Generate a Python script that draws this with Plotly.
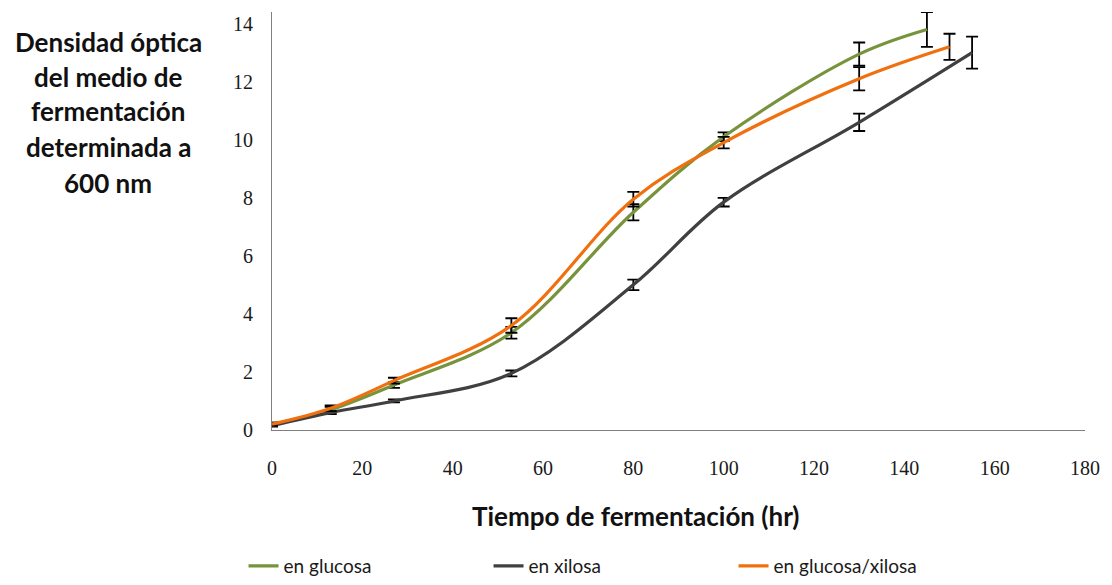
import plotly.graph_objects as go

# Data
t_glucosa = [0, 13, 27, 53, 80, 100, 130, 145]
od_glucosa = [0.2, 0.7, 1.55, 3.35, 7.5, 10.1, 12.95, 13.8]
err_glucosa = [0.05, 0.1, 0.1, 0.2, 0.28, 0.15, 0.4, 0.6]

t_xilosa = [0, 13, 27, 53, 80, 100, 130, 155]
od_xilosa = [0.15, 0.6, 1.0, 1.95, 5.0, 7.85, 10.6, 13.0]
err_xilosa = [0.03, 0.05, 0.05, 0.1, 0.18, 0.15, 0.3, 0.55]

t_mezcla = [0, 13, 27, 53, 80, 100, 130, 150]
od_mezcla = [0.2, 0.75, 1.7, 3.6, 7.95, 9.9, 12.1, 13.2]
err_mezcla = [0.05, 0.1, 0.1, 0.25, 0.25, 0.2, 0.4, 0.45]

series_names = ["en glucosa", "en xilosa", "en glucosa/xilosa"]
series_colors = ["#77933C", "#404040", "#F0700F"]

x_ticks = [0, 20, 40, 60, 80, 100, 120, 140, 160, 180]
y_ticks = [0, 2, 4, 6, 8, 10, 12, 14]

y_title_lines = ["Densidad óptica", "del medio de", "fermentación", "determinada a", "600 nm"]
x_title = "Tiempo de fermentación (hr)"

fig = go.Figure()
for xs, ys, es, name, color in [
    (t_glucosa, od_glucosa, err_glucosa, series_names[0], series_colors[0]),
    (t_xilosa, od_xilosa, err_xilosa, series_names[1], series_colors[1]),
    (t_mezcla, od_mezcla, err_mezcla, series_names[2], series_colors[2]),
]:
    fig.add_trace(go.Scatter(
        x=xs, y=ys, name=name, mode="lines",
        line=dict(color=color, width=3.2, shape="spline", smoothing=1.0),
        error_y=dict(type="data", array=es, visible=True, color="#000000",
                     thickness=1.8, width=6),
    ))

# Plot area in pixels: left 272, right 1090, top 12, bottom 430
L, R, T, B = 272, 1090, 12, 430
W, H = R - L, B - T

fig.update_layout(
    width=1112, height=585,
    margin=dict(l=L, r=1112 - R, t=T, b=585 - B),
    paper_bgcolor="white", plot_bgcolor="white",
    showlegend=True,
    legend=dict(
        orientation="h", xref="container", yref="container",
        x=0.219, xanchor="left", y=-0.01, yanchor="bottom",
        entrywidth=200, entrywidthmode="pixels",
        font=dict(family="Lato", size=19, color="#1a1a1a"),
        bgcolor="rgba(0,0,0,0)",
    ),
    xaxis=dict(
        range=[0, 180], tickvals=x_ticks, ticktext=[str(v) for v in x_ticks],
        showgrid=False, zeroline=False, showline=True, linecolor="#7f7f7f",
        linewidth=1, ticks="", ticklabelstandoff=20,
        tickfont=dict(family="Liberation Serif", size=20, color="#1a1a1a"),
    ),
    yaxis=dict(
        range=[0, 14.4], tickvals=y_ticks, ticktext=[str(v) for v in y_ticks],
        showgrid=False, zeroline=False, showline=True, linecolor="#7f7f7f",
        linewidth=1, ticks="", ticklabelstandoff=14,
        tickfont=dict(family="Liberation Serif", size=20, color="#1a1a1a"),
    ),
)

# Y-axis title as stacked horizontal lines
line_centers_px = [42, 77, 111, 147, 183]
for txt, py in zip(y_title_lines, line_centers_px):
    fig.add_annotation(
        text=txt, xref="paper", yref="paper",
        x=(107 - L) / W, y=(B - py) / H, xanchor="center", yanchor="middle",
        showarrow=False, font=dict(family="Lato", size=26, color="#111111", weight="bold"),
    )

# X-axis title
fig.add_annotation(
    text=x_title, xref="paper", yref="paper",
    x=(638 - L) / W, y=(B - 516) / H, xanchor="center", yanchor="middle",
    showarrow=False, font=dict(family="Lato", size=26, color="#111111", weight="bold"),
)

fig.write_html("out.html")
